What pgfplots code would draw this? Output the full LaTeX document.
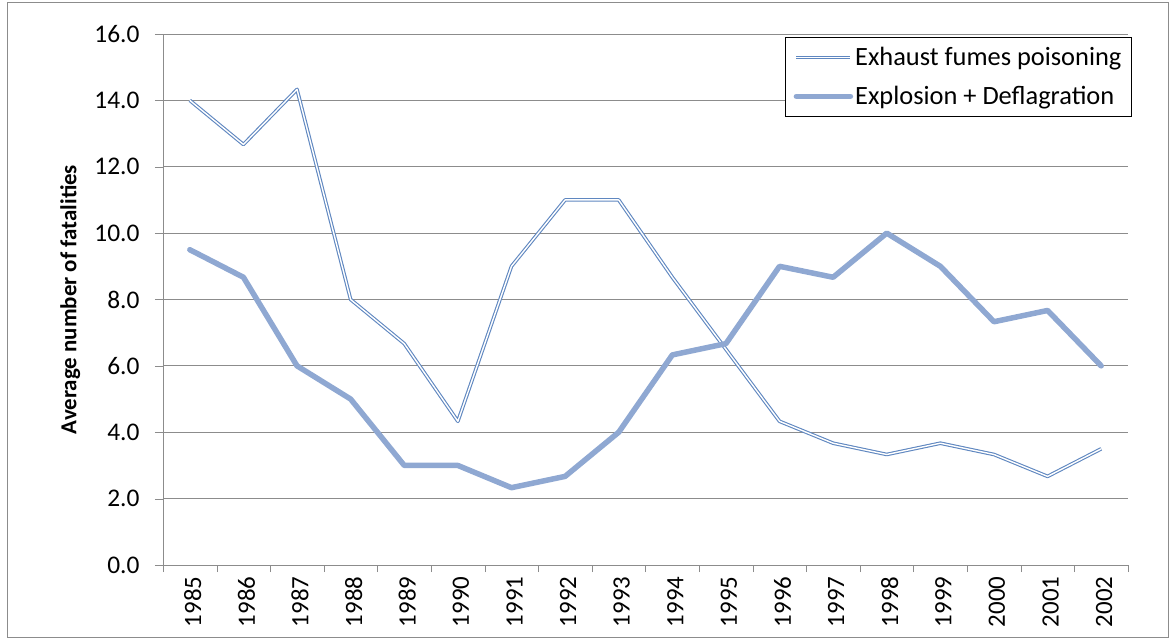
\documentclass[border=0pt]{standalone}
\usepackage{pgfplots}
\pgfplotsset{compat=1.18}
\usepackage{fontspec}
\setmainfont{Carlito}
\definecolor{gridgray}{RGB}{140,140,140}
\definecolor{fumes}{RGB}{95,135,192}
\definecolor{blast}{RGB}{143,168,210}

\begin{document}
\begin{tikzpicture}
\begin{axis}[
    name=ax,
    scale only axis,
    width=965bp, height=531bp,
    xmin=-0.5, xmax=17.5,
    ymin=0, ymax=16,
    ytick={0,2,...,16},
    xtick={0,...,17},
    xticklabels={1985,1986,1987,1988,1989,1990,1991,1992,1993,1994,1995,1996,1997,1998,1999,2000,2001,2002},
    minor xtick={-0.5,0.5,...,17.5},
    xtick style={draw=none},
    minor x tick style={draw=gridgray},
    minor tick length=7bp,
    ytick style={draw=gridgray},
    major tick length=8bp,
    tick align=outside,
    axis x line*=bottom, axis y line*=left,
    axis line style={draw=gridgray, line width=0.9bp},
    ymajorgrids,
    grid style={draw=gridgray, line width=0.9bp},
    /pgf/number format/assume math mode=true,
    yticklabel style={/pgf/number format/fixed, /pgf/number format/fixed zerofill, /pgf/number format/precision=1,
        font=\fontsize{25.5}{29}\selectfont, xshift=-12bp},
    xticklabel style={rotate=90, anchor=east, font=\fontsize{25}{29}\selectfont, yshift=-3bp},
    ylabel={\textbf{Average number of fatalities}},
    ylabel style={at={(axis description cs:-0.096,0.5)}, anchor=center, font=\fontsize{23}{27}\selectfont},
    legend style={at={(rel axis cs:1.004,0.994)}, anchor=north east, draw=black, line width=0.8bp,
        font=\fontsize{26.5}{30}\selectfont, row sep=15bp, inner xsep=8bp, inner ysep=8bp},
    legend cell align=left,
    legend image code/.code={\draw[#1] (0bp,0bp) -- (54bp,0bp);},
]
\addplot[draw=fumes, double=white, line width=1.1bp, double distance=1.4bp, line join=round]
    coordinates {
    (0,14.0)(1,12.67)(2,14.33)(3,8.0)(4,6.67)(5,4.33)(6,9.0)(7,11.0)(8,11.0)
    (9,8.67)(10,6.5)(11,4.33)(12,3.67)(13,3.33)(14,3.67)(15,3.33)(16,2.67)(17,3.5) };
\addplot[draw=blast, line width=5.5bp, line join=round, line cap=round]
    coordinates {
    (0,9.5)(1,8.67)(2,6.0)(3,5.0)(4,3.0)(5,3.0)(6,2.33)(7,2.67)(8,4.0)
    (9,6.33)(10,6.67)(11,9.0)(12,8.67)(13,10.0)(14,9.0)(15,7.33)(16,7.67)(17,6.0) };
\legend{Exhaust fumes poisoning,Explosion + Deflagration}
\end{axis}
\draw[gridgray, line width=1bp] ([shift={(-155bp,-72bp)}]ax.south west) rectangle ([shift={(40bp,31bp)}]ax.north east);
\path[use as bounding box] ([shift={(-163bp,-75bp)}]ax.south west) rectangle ([shift={(46bp,34bp)}]ax.north east);
\end{tikzpicture}
\end{document}
